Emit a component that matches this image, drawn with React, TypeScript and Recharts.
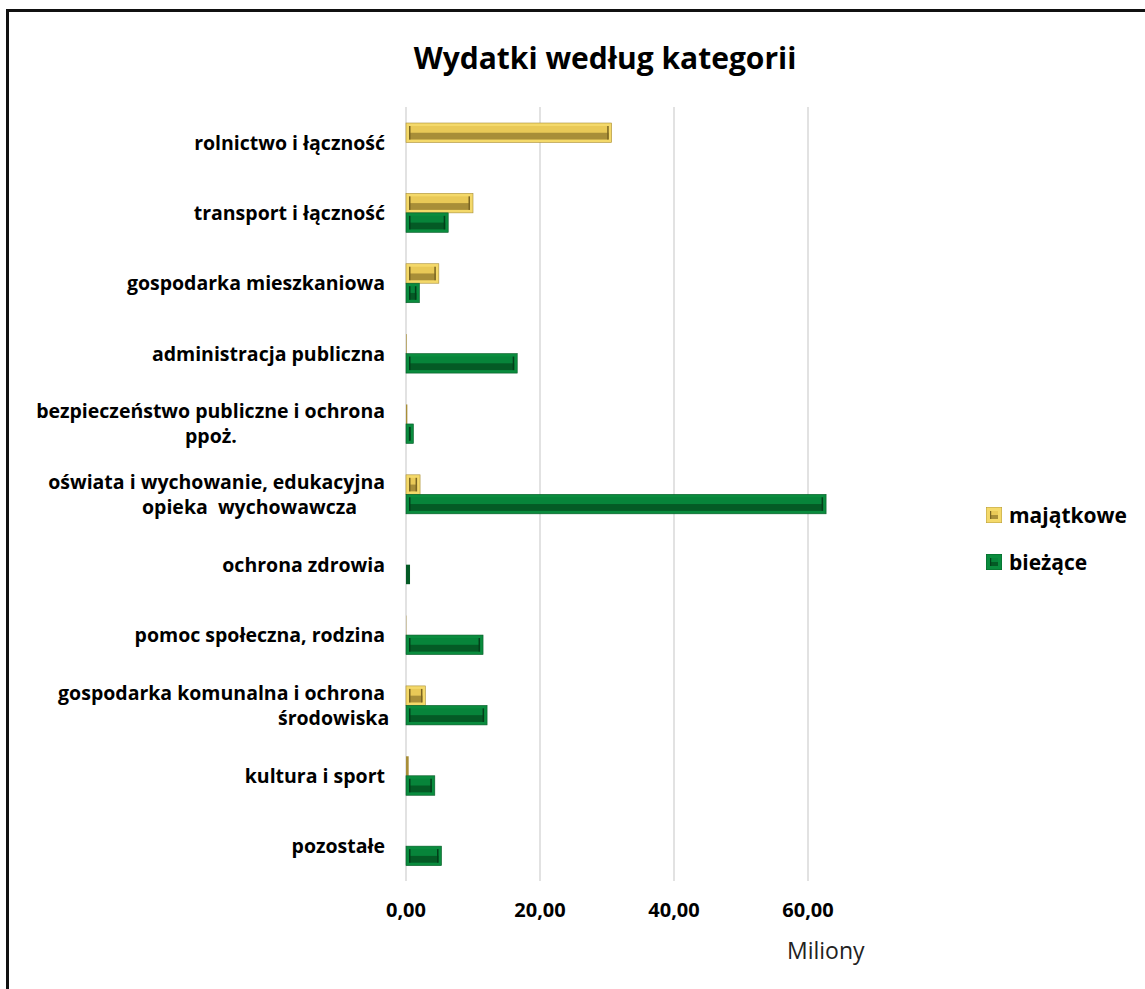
import React from "react";
import { BarChart, Bar, XAxis, YAxis, CartesianGrid, Legend } from "recharts";

const categories = [
  "rolnictwo i łączność",
  "transport i łączność",
  "gospodarka mieszkaniowa",
  "administracja publiczna",
  "bezpieczeństwo publiczne i ochrona\nppoż.",
  "oświata i wychowanie, edukacyjna\nopieka  wychowawcza",
  "ochrona zdrowia",
  "pomoc społeczna, rodzina",
  "gospodarka komunalna i ochrona\nśrodowiska",
  "kultura i sport",
  "pozostałe",
];

// miliony zł
const majatkowe = [30.7, 10.0, 4.9, 0.1, 0.2, 2.1, 0, 0.05, 2.9, 0.4, 0];
const biezace = [0, 6.3, 2.0, 16.6, 1.1, 62.7, 0.6, 11.5, 12.1, 4.3, 5.3];

const xTicks = [0, 20, 40, 60];
const seriesOrder = ["majatkowe", "biezace"];

const data = categories.map((name, i) => ({
  name,
  majatkowe: majatkowe[i],
  biezace: biezace[i],
}));

const FONT = "'Open Sans', sans-serif";

const YELLOW = { rim: "#f4d96a", top: "#e9c957", low: "#a88e38", edge: "#7a6522" };
const GREEN = { rim: "#0a8c3e", top: "#07843a", low: "#045a25", edge: "#033f1a" };

type Pal = typeof YELLOW;

function bevel(x: number, y: number, w: number, h: number, c: Pal) {
  if (w <= 0) return null;
  if (w < 7) return <rect x={x} y={y} width={w} height={h} fill={c.low} />;
  return (
    <g>
      <rect x={x} y={y} width={w} height={h} fill={c.rim} stroke={c.low} strokeWidth={0.6} />
      <rect x={x + 3} y={y + 3} width={w - 6} height={h - 6} fill={c.top} />
      <rect x={x + 3} y={y + h / 2} width={w - 6} height={h / 2 - 3} fill={c.low} />
      <rect x={x + 3} y={y + 3} width={1.5} height={h - 6} fill={c.edge} />
      <rect x={x + w - 4.5} y={y + 3} width={1.5} height={h - 6} fill={c.edge} />
    </g>
  );
}

const YellowShape = (p: any) => bevel(p.x, p.y, p.width, p.height, YELLOW);
const GreenShape = (p: any) => bevel(p.x, p.y, p.width, p.height, GREEN);

// początek drugiej linii etykiety, liczony od prawej krawędzi etykiet
const secondLineStart = [-200, -243, -107];
const secondLineOf = (text: string) =>
  text.startsWith("ppo") ? secondLineStart[0] : text.startsWith("opieka") ? secondLineStart[1] : secondLineStart[2];

const CategoryTick = (props: any) => {
  const { x, y, payload } = props;
  const lines = String(payload.value).split("\n");
  const right = x - 21;
  const common = { fontFamily: FONT, fontWeight: 700, fontSize: 19.5, fill: "#000", dominantBaseline: "central" as const };
  if (lines.length === 1) {
    return (
      <text x={right} y={y} textAnchor="end" {...common}>
        {lines[0]}
      </text>
    );
  }
  return (
    <g>
      <text x={right} y={y - 13} textAnchor="end" {...common}>
        {lines[0]}
      </text>
      <text x={right + secondLineOf(lines[1])} y={y + 12} textAnchor="start" {...common}
        style={{ whiteSpace: "pre" }}>
        {lines[1]}
      </text>
    </g>
  );
};

const ValueTick = (props: any) => {
  const { x, y, payload } = props;
  return (
    <text x={x} y={y + 28} textAnchor="middle" dominantBaseline="central"
      fontFamily={FONT} fontWeight={700} fontSize={20} fill="#000">
      {Number(payload.value).toFixed(2).replace(".", ",")}
    </text>
  );
};

const Marker = ({ c }: { c: Pal }) => (
  <svg width={16} height={16} style={{ marginRight: 7 }}>
    <rect x={0} y={0} width={16} height={16} fill={c.rim} stroke={c.low} strokeWidth={0.8} />
    <rect x={4} y={4} width={8} height={8} fill={c.top} />
    <rect x={4} y={8} width={8} height={4} fill={c.low} />
    <rect x={4} y={4} width={1.2} height={8} fill={c.edge} />
  </svg>
);

const LegendBox = (props: any) => {
  const items = [...(props.payload || [])].sort(
    (a: any, b: any) => seriesOrder.indexOf(a.dataKey) - seriesOrder.indexOf(b.dataKey)
  );
  return (
    <div style={{ fontFamily: FONT, fontWeight: 700, fontSize: 21, color: "#000" }}>
      {items.map((it: any) => (
        <div key={it.value} style={{ display: "flex", alignItems: "center", height: 47 }}>
          <Marker c={it.dataKey === "majatkowe" ? YELLOW : GREEN} />
          <span>{it.value}</span>
        </div>
      ))}
    </div>
  );
};

export default function App() {
  return (
    <div style={{ position: "absolute", left: 0, top: 0, width: 1145, height: 989, overflow: "hidden", background: "#fff" }}>
      <div style={{ position: "absolute", left: 6, top: 9, width: 1300, height: 1200, border: "3px solid #111", boxSizing: "border-box" }} />
      <div style={{ position: "absolute", left: 0, top: 37, width: 1210, textAlign: "center", fontFamily: FONT, fontWeight: 700, fontSize: 30, color: "#000" }}>
        Wydatki według kategorii
      </div>
      <div style={{ position: "absolute", left: 0, top: 0 }}>
        <BarChart width={1145} height={989} data={data} layout="vertical"
          margin={{ top: 107, right: 270, bottom: 78, left: 0 }}
          barSize={19.5} barGap={0}>
          <CartesianGrid horizontal={false} stroke="#d9d9d9" strokeWidth={1.5}
            verticalValues={xTicks} />
          <XAxis type="number" domain={[0, 70]} ticks={xTicks} axisLine={false} tickLine={false}
            tickSize={0} tickMargin={0} height={30} tick={<ValueTick />} />
          <YAxis type="category" dataKey="name" width={406} axisLine={false} tickLine={false}
            tickSize={0} tickMargin={0} interval={0} tick={<CategoryTick />} />
          <Legend layout="vertical" align="center" verticalAlign="middle" content={<LegendBox />}
            wrapperStyle={{ position: "absolute", left: 986, top: 491, width: 160 }} />
          <Bar dataKey="majatkowe" name="majątkowe" fill={YELLOW.rim} shape={YellowShape} isAnimationActive={false} />
          <Bar dataKey="biezace" name="bieżące" fill={GREEN.rim} shape={GreenShape} isAnimationActive={false} />
        </BarChart>
      </div>
      <div style={{ position: "absolute", left: 787, top: 934, fontFamily: FONT, fontSize: 23, color: "#222" }}>
        Miliony
      </div>
    </div>
  );
}
